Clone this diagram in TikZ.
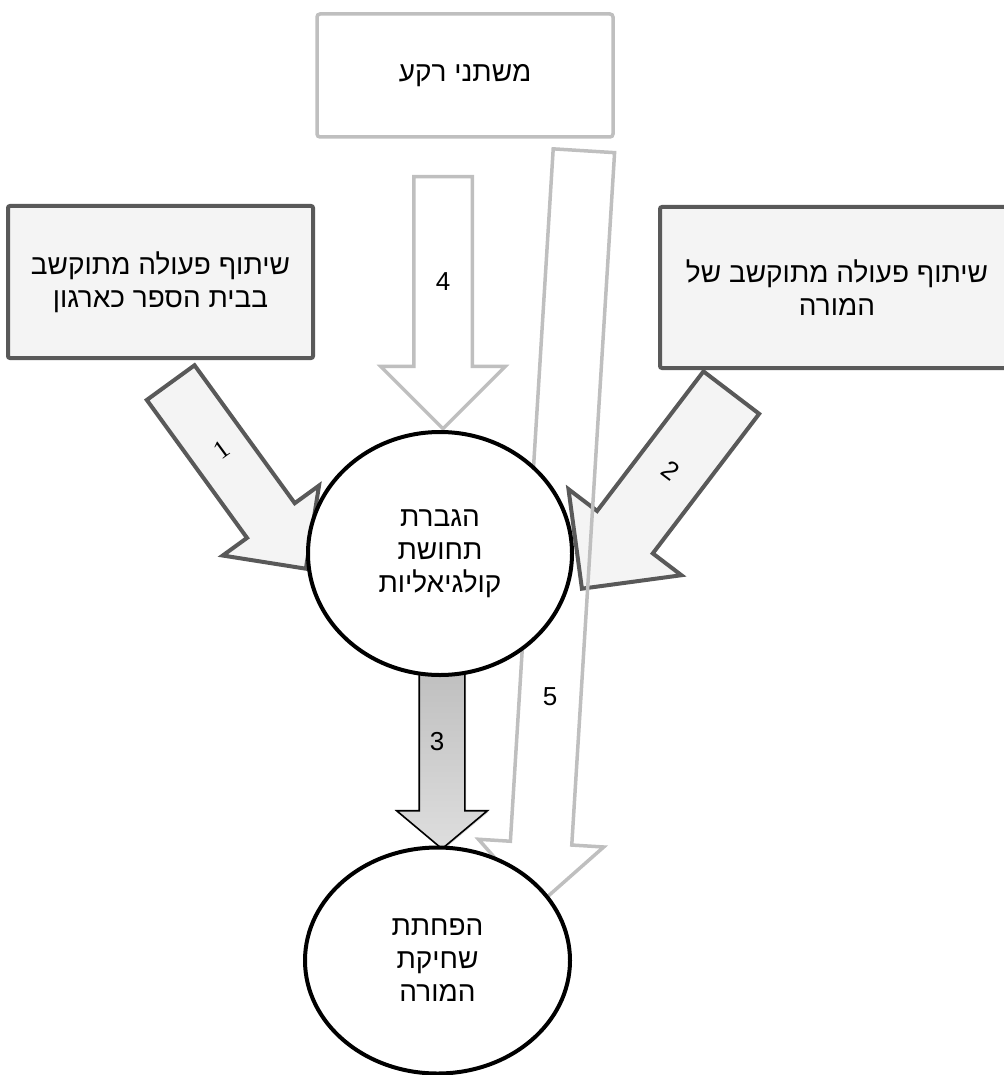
\documentclass[tikz,border=0pt]{standalone}
\usepackage{fontspec}
\usetikzlibrary{shapes.geometric,shapes.arrows,shadows}
\TeXXeTstate=1
\newfontfamily\hebfont[Script=Hebrew]{Liberation Sans}
\newfontfamily\numserif{Liberation Serif}
\definecolor{darkline}{HTML}{595959}
\definecolor{lightline}{HTML}{BFBFBF}
\definecolor{marble}{HTML}{F4F4F4}
\tikzset{
  hebtext/.style={font=\hebfont\fontsize{14}{16.5}\selectfont, align=center, text=black},
  darkbox/.style={draw=darkline, line width=2pt, fill=marble, rounded corners=1pt, inner sep=0pt, hebtext},
  lightbox/.style={draw=lightline, line width=1.75pt, fill=white, rounded corners=1.5pt, inner sep=0pt, hebtext},
  bubble/.style={ellipse, draw=black, line width=2pt, fill=white, inner sep=0pt, hebtext},
  blockarrow/.style={single arrow, shape border rotate=270, line join=miter, anchor=tail},
  darkarrow/.style={blockarrow, draw=darkline, line width=2pt, fill=marble},
  lightarrow/.style={blockarrow, draw=lightline, line width=1.75pt},
  numlabel/.style={font=\hebfont\fontsize{13}{14}\selectfont, inner sep=0pt}
}
\begin{document}
\begin{tikzpicture}[x=0.5pt,y=-0.5pt]
\useasboundingbox (0,0) rectangle (1003,1075);
% boxes
\node[lightbox, minimum width=148pt, minimum height=61.5pt] (bg) at (465,75.5) {\raisebox{2pt}{\beginR משתני רקע\endR}};
\node[darkbox, minimum width=152.5pt, minimum height=76pt] (school) at (160.5,282)
  {\beginR שיתוף פעולה מתוקשב\endR\\\beginR בבית הספר כארגון\endR};
\node[darkbox, minimum width=177pt, minimum height=80.5pt] (teacher) at (837,287.5)
  {\beginR שיתוף פעולה מתוקשב של\endR\\\beginR המורה\endR};
% block arrows (placed by their tails)
\node[darkarrow, rotate=36, inner sep=13.75pt, minimum height=115pt, minimum width=57.5pt, single arrow head extend=15pt] (a1) at (169.5,381) {};
\node[darkarrow, rotate=-37.3, inner sep=16.5pt, minimum height=123.25pt, minimum width=69pt, single arrow head extend=18pt] (a2) at (732.5,391) {};
\node[lightarrow, fill=white, inner sep=13.75pt, minimum height=126pt, minimum width=60.5pt, single arrow head extend=16.5pt] (a4) at (443,175) {};
\node[lightarrow, rotate=-3.54, inner sep=14.5pt, minimum height=378.25pt, minimum width=61pt, single arrow head extend=16pt] (a5) at (584,149) {};
\node[blockarrow, draw=black, line width=0.8pt, top color=black!27, bottom color=black!13,
      drop shadow={shadow xshift=0.6pt, shadow yshift=-0.6pt, opacity=0.3},
      inner sep=11pt, single arrow tip angle=100, minimum height=104pt, minimum width=44.5pt, single arrow head extend=11.25pt] (a3) at (442,640) {};
% circles
\node[bubble, minimum width=132pt, minimum height=121.5pt] (coll) at (440,553.5)
  {\beginR הגברת\endR\\\beginR תחושת\endR\\\beginR קולגיאליות\endR};
\node[bubble, minimum width=132.5pt, minimum height=113pt] (burn) at (437.5,960.5)
  {\beginR הפחתת\endR\\\beginR שחיקת\endR\\\beginR המורה\endR};
% labels
\node[numlabel, font=\numserif\fontsize{13}{14}\selectfont, rotate=36] (l1) at (222,450) {1};
\node[numlabel, rotate=-37] (l2) at (671,471) {2};
\node[numlabel] (l3) at (437,742) {3};
\node[numlabel] (l4) at (443,282) {4};
\node[numlabel] (l5) at (550,697) {5};
\end{tikzpicture}
\end{document}
